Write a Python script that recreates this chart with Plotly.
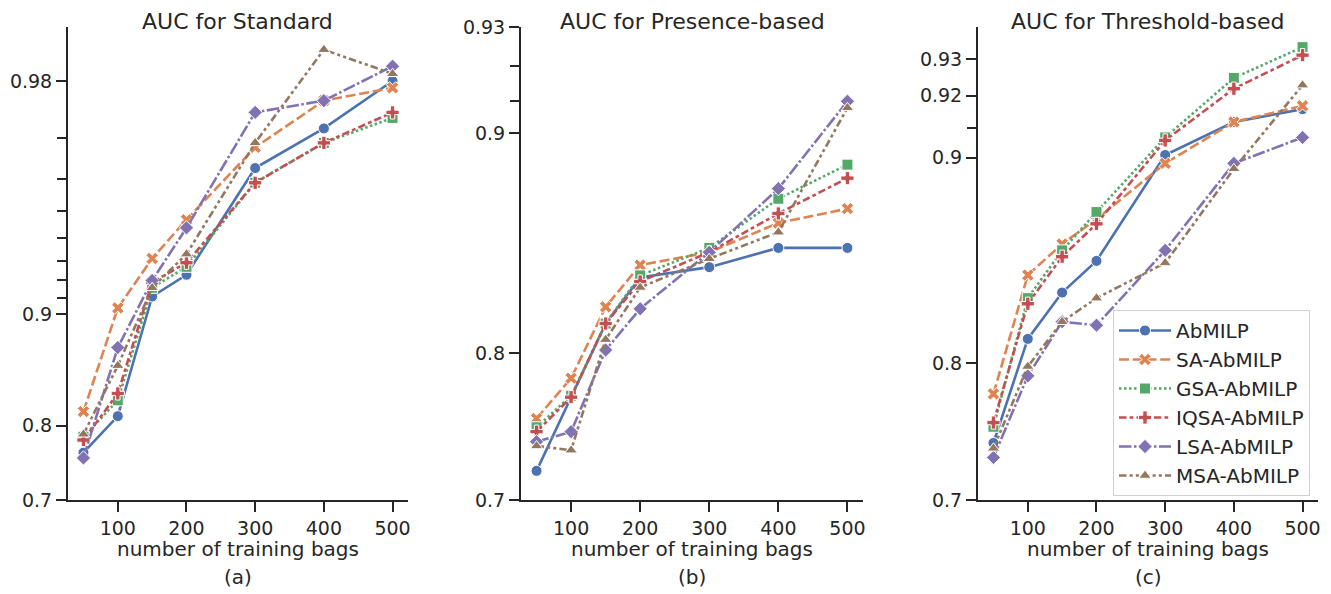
import numpy as np
import plotly.graph_objects as go

# ---------------- data ----------------
bags = [50, 100, 150, 200, 300, 400, 500]
x_ticks = [100, 200, 300, 400, 500]
methods = ["AbMILP", "SA-AbMILP", "GSA-AbMILP", "IQSA-AbMILP", "LSA-AbMILP", "MSA-AbMILP"]
panel_titles = ["AUC for Standard", "AUC for Presence-based", "AUC for Threshold-based"]
panel_labels = ["(a)", "(b)", "(c)"]
x_label = "number of training bags"

# (a) Standard
std_abmilp = [0.767, 0.811, 0.911, 0.923, 0.963, 0.972, 0.980]
std_sa = [0.816, 0.904, 0.931, 0.947, 0.968, 0.977, 0.979]
std_gsa = [0.787, 0.828, 0.916, 0.927, 0.959, 0.969, 0.974]
std_iqsa = [0.783, 0.835, 0.919, 0.929, 0.959, 0.969, 0.975]
std_lsa = [0.760, 0.876, 0.920, 0.944, 0.975, 0.977, 0.982]
std_msa = [0.790, 0.861, 0.916, 0.933, 0.969, 0.984, 0.981]

# (b) Presence-based
pre_abmilp = [0.722, 0.773, 0.817, 0.841, 0.846, 0.855, 0.855]
pre_sa = [0.759, 0.785, 0.826, 0.847, 0.853, 0.866, 0.872]
pre_gsa = [0.753, 0.774, 0.817, 0.842, 0.855, 0.876, 0.889]
pre_iqsa = [0.750, 0.773, 0.817, 0.839, 0.853, 0.870, 0.884]
pre_lsa = [0.743, 0.750, 0.802, 0.825, 0.853, 0.880, 0.910]
pre_msa = [0.740, 0.737, 0.808, 0.836, 0.850, 0.862, 0.908]

# (c) Threshold-based
thr_abmilp = [0.745, 0.815, 0.841, 0.857, 0.901, 0.912, 0.916]
thr_sa = [0.780, 0.850, 0.865, 0.876, 0.898, 0.912, 0.917]
thr_gsa = [0.757, 0.838, 0.862, 0.879, 0.907, 0.925, 0.933]
thr_iqsa = [0.760, 0.835, 0.859, 0.874, 0.906, 0.922, 0.931]
thr_lsa = [0.734, 0.792, 0.825, 0.823, 0.862, 0.898, 0.907]
thr_msa = [0.741, 0.798, 0.825, 0.838, 0.856, 0.896, 0.923]

# y-axis ticks (logit scale)
std_major = [0.7, 0.8, 0.9, 0.98]
std_minor = [0.91, 0.92, 0.93, 0.94, 0.95, 0.96, 0.97]
pre_major = [0.7, 0.8, 0.9, 0.93]
pre_minor = [0.91, 0.92]
thr_major = [0.7, 0.8, 0.9, 0.92, 0.93]
thr_minor = [0.91]
std_ylim = [0.7, 0.9864]
pre_ylim = [0.7, 0.93]
thr_ylim = [0.7, 0.9378]

# ---------------- style ----------------
colors = ["#4C72B0", "#DD8452", "#55A868", "#C44E52", "#8172B3", "#937860"]
symbols = ["circle", "x", "square", "cross", "diamond", "triangle-up"]
dashes = ["solid", "10px,3.75px", "2.5px,2.5px", "7.5px,3.1px,3.75px,3.1px",
          "12.5px,2.5px,2.5px,2.5px", "7.5px,3.1px,3.1px,3.1px,3.1px,3.1px"]
FONT = "DejaVu Sans"
INK = "#262626"
W, H = 1331, 594
OFF = 8  # page body margin offset


def logit(p):
    p = np.asarray(p, dtype=float)
    return np.log(p / (1 - p))


def px_x(x):
    return (x - OFF) / W


def px_y(y):
    return (H - (y - OFF)) / H


panels = [
    ([std_abmilp, std_sa, std_gsa, std_iqsa, std_lsa, std_msa], std_major, std_minor, std_ylim),
    ([pre_abmilp, pre_sa, pre_gsa, pre_iqsa, pre_lsa, pre_msa], pre_major, pre_minor, pre_ylim),
    ([thr_abmilp, thr_sa, thr_gsa, thr_iqsa, thr_lsa, thr_msa], thr_major, thr_minor, thr_ylim),
]

# pixel layout
x_px = [(68, 408), (521, 863), (978, 1318)]
y_top_px, y_bot_px = 27, 500

fig = go.Figure()
for i, (series, major, minor, ylim) in enumerate(panels):
    xa = "x" if i == 0 else f"x{i+1}"
    ya = "y" if i == 0 else f"y{i+1}"
    for j, vals in enumerate(series):
        fig.add_trace(go.Scatter(
            x=bags, y=logit(vals), xaxis=xa, yaxis=ya,
            mode="lines+markers", name=methods[j],
            showlegend=(i == 2),
            line=dict(color=colors[j], width=2.6, dash=dashes[j]),
            marker=dict(symbol=symbols[j], size=11, color=colors[j],
                        line=dict(color="white", width=1)),
        ))
    dom_x = [px_x(x_px[i][0]), px_x(x_px[i][1])]
    dom_y = [px_y(y_bot_px), px_y(y_top_px)]
    axis_common = dict(showline=True, linecolor=INK, linewidth=2, ticks="outside",
                       tickcolor=INK, tickwidth=2, ticklen=10, showgrid=False,
                       zeroline=False, automargin=False,
                       tickfont=dict(family=FONT, size=19, color=INK))
    fig.layout[f"xaxis{'' if i == 0 else i+1}"] = dict(
        domain=dom_x, anchor=ya, range=[27.5, 522.5], tickmode="array",
        tickvals=x_ticks, ticktext=[str(v) for v in x_ticks], **axis_common)
    fig.layout[f"yaxis{'' if i == 0 else i+1}"] = dict(
        domain=dom_y, anchor=xa, range=list(logit(ylim)), tickmode="array",
        tickvals=list(logit(major)), ticktext=[f"{v:g}" for v in major],
        minor=dict(tickmode="array", tickvals=list(logit(minor)), ticks="outside",
                   ticklen=9, tickwidth=2, tickcolor=INK, showgrid=False),
        **axis_common)
    cx = (dom_x[0] + dom_x[1]) / 2
    fig.add_annotation(text=panel_titles[i], x=cx, y=1.0, xref="paper", yref="paper",
                       showarrow=False, xanchor="center", yanchor="top", borderpad=0,
                       font=dict(family=FONT, size=22, color=INK))
    fig.add_annotation(text=x_label, x=cx, y=px_y(549), xref="paper", yref="paper",
                       showarrow=False, xanchor="center", yanchor="middle",
                       font=dict(family=FONT, size=20, color=INK))
    fig.add_annotation(text=panel_labels[i], x=cx, y=px_y(577), xref="paper", yref="paper",
                       showarrow=False, xanchor="center", yanchor="middle",
                       font=dict(family=FONT, size=20, color=INK))

fig.update_layout(
    width=W, height=H, margin=dict(l=0, r=0, t=0, b=0, pad=0, autoexpand=False),
    paper_bgcolor="white", plot_bgcolor="white",
    font=dict(family=FONT, color=INK),
    legend=dict(x=px_x(1113), y=px_y(310), xanchor="left", yanchor="top",
                bgcolor="rgba(255,255,255,0.85)", bordercolor="#d0d0d0", borderwidth=1,
                font=dict(family=FONT, size=20, color=INK), itemwidth=52,
                tracegroupgap=0),
)

fig.write_html("out.html")
